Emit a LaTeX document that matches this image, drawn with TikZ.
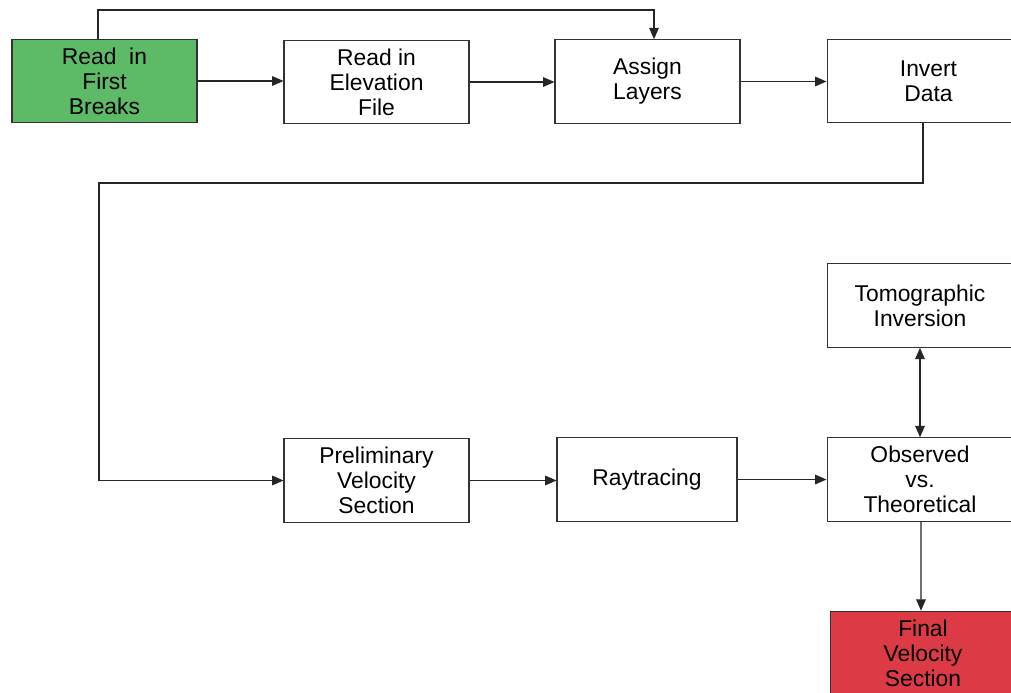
\documentclass[tikz,border=0pt]{standalone}
\usepackage{fontspec}
\setmainfont{Liberation Sans}
\usepackage{xcolor}
\usepackage{tikz}
\usetikzlibrary{arrows.meta,positioning,calc}
\definecolor{startgreen}{RGB}{93,186,103}
\definecolor{endred}{RGB}{220,59,69}
\begin{document}
\begin{tikzpicture}[x=0.02cm, y=-0.02cm, font=\fontsize{13}{14.2}\selectfont,
  box/.style={draw=black!80, line width=0.6pt, align=center, inner sep=2pt,
    minimum width=3.7cm, minimum height=1.67cm, fill=white},
  arr/.style={-{Triangle[length=6.5pt, width=5.5pt]}, line width=0.6pt, black!85},
  dbl/.style={{Triangle[length=6.5pt, width=5.5pt]}-{Triangle[length=6.5pt, width=5.5pt]}, line width=0.6pt, black!85}]
\useasboundingbox (0,0) rectangle (1011,693);
\clip (0,0) rectangle (1011,693);
\node[box, fill=startgreen] (rf) at (104.5,81) {Read\ \ in\\ First\\ Breaks};
\node[box] (el) at (376.5,82) {Read in\\ Elevation\\ File};
\node[box] (as) at (647.5,81.5) {Assign\\ Layers};
\node[box, minimum width=4.06cm] (inv) at (928.5,81) {Invert\\ Data};
\node[box] (pv) at (376.5,480.5) {Preliminary\\ Velocity\\ Section};
\node[box, minimum width=3.6cm] (rt) at (647,479.5) {Raytracing};
\node[box, minimum width=3.72cm] (ob) at (920,479.5) {Observed\\ vs.\\ Theoretical};
\node[box, minimum width=3.72cm] (tg) at (920,305.5) {Tomographic\\ Inversion};
\node[box, fill=endred, minimum width=3.72cm] (fv) at (923,653) {Final\\ Velocity\\ Section};
\coordinate (top) at (98,10);
\coordinate (bend) at (99,183);
\draw[arr] (rf.east) -- (rf.east -| el.west);
\draw[arr] (el.east) -- (el.east -| as.west);
\draw[arr] (as.east) -- (as.east -| inv.west);
\draw[arr] (top |- rf.north) -- (top) -| ([xshift=0.13cm]as.north);
\draw[arr] ([xshift=-0.11cm]inv.south) |- (bend) |- (pv.west);
\draw[arr] (pv.east) -- (pv.east -| rt.west);
\draw[arr] (rt.east) -- (rt.east -| ob.west);
\draw[dbl] (tg.south) -- (ob.north);
\draw[arr] ([xshift=0.02cm]ob.south) -- ([xshift=-0.04cm]fv.north);
\end{tikzpicture}
\end{document}
